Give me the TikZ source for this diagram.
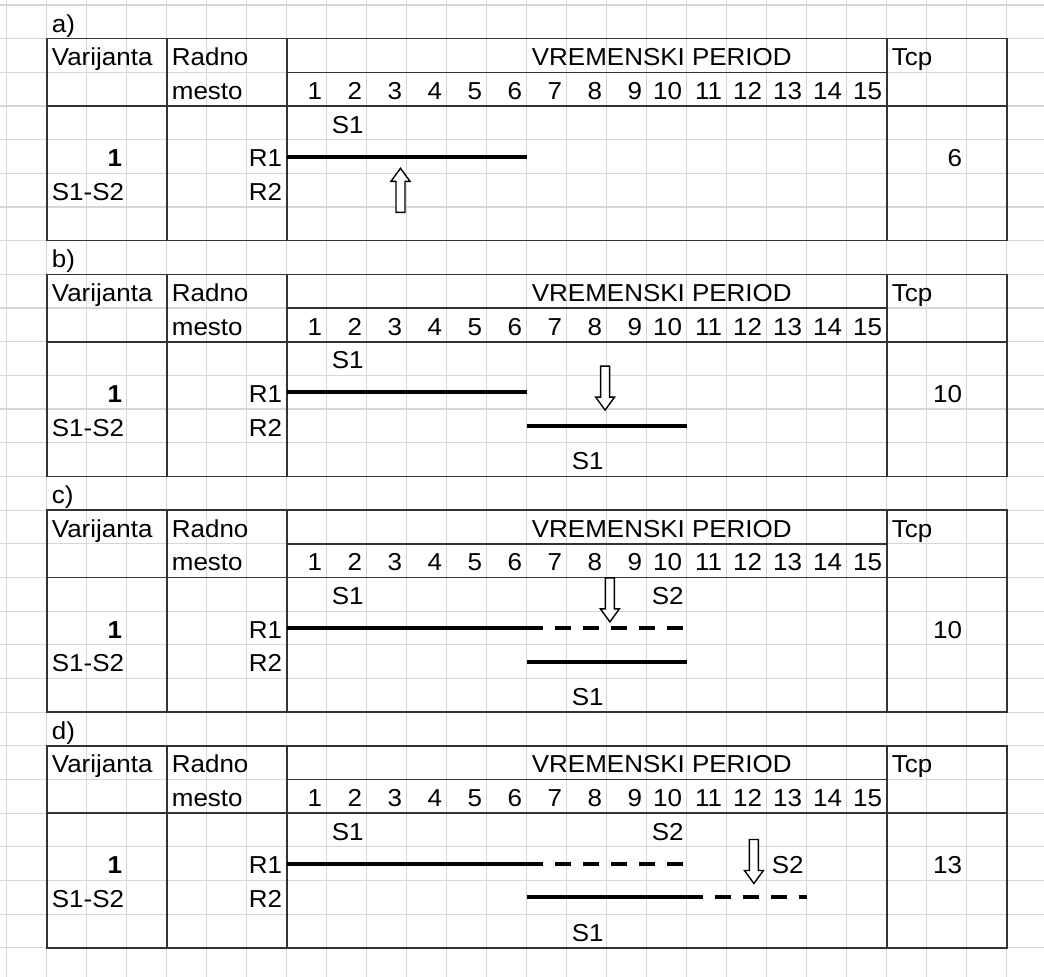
\documentclass[tikz,border=0pt]{standalone}
\usepackage{fontspec}
\setmainfont{Liberation Sans}[FakeStretch=1.06]
\usepackage{tikz}
\definecolor{gridgray}{gray}{0.84}
\definecolor{tabgray}{gray}{0.2}
\tikzset{
  cellln/.style={gridgray,line width=1.1pt},
  tabln/.style={tabgray,line width=1.6pt},
  job/.style={black,line width=4pt},
  jobdash/.style={black,line width=4pt,dash pattern=on 16pt off 12pt},
  blockarr/.style={draw=black,fill=white,line width=1.4pt,line join=miter},
  txtl/.style={anchor=base west,inner sep=0pt,xshift=5pt,yshift=6.5pt},
  txtr/.style={anchor=base east,inner sep=0pt,xshift=-4.5pt,yshift=6.5pt},
}

\begin{document}
\begin{tikzpicture}[x=40pt,y=-33.67pt,font=\fontsize{24.5}{29}\selectfont]
  \useasboundingbox (-0.1675,-0.1485) rectangle (25.9325,28.868);
  \fill[white] (-0.1675,-0.1485) rectangle (25.9325,28.868);
  % cell grid
  \foreach \i in {0,...,25} \draw[cellln] (\i,-0.1485) -- (\i,28.868);
  \foreach \j in {0,...,28} \draw[cellln] (-0.1675,\j) -- (25.9325,\j);
  % block arrows, tip at #1
  \def\dnarr#1{\draw[blockarr] (#1) ++(-4.5pt,44pt) -- ++(9pt,0pt) -- ++(0pt,-31pt)
    -- ++(5pt,0pt) -- ++(-9.5pt,-13pt) -- ++(-9.5pt,13pt) -- ++(5pt,0pt) -- cycle;}
  \def\uparr#1{\draw[blockarr] (#1) ++(-4.5pt,-44pt) -- ++(9pt,0pt) -- ++(0pt,31pt)
    -- ++(5pt,0pt) -- ++(-9.5pt,13pt) -- ++(-9.5pt,-13pt) -- ++(5pt,0pt) -- cycle;}
  % the four tables
  \foreach \p/\lab/\tcp [count=\n from 0] in {a/a)/6,b/b)/10,c/c)/10,d/d)/13}{
    \pgfmathtruncatemacro\r{7*\n}
    \node[txtl] (lab\p) at (1,\r+1) {\lab};
    \draw[tabln] (1,\r+1) rectangle (25,\r+7);
    \draw[tabln] (4,\r+1) -- (4,\r+7) (7,\r+1) -- (7,\r+7) (22,\r+1) -- (22,\r+7);
    \draw[tabln] (7,\r+2) -- (22,\r+2) (1,\r+3) -- (25,\r+3);
    \node[txtl] (var\p) at (1,\r+2) {Varijanta};
    \node[txtl] (rad\p) at (4,\r+2) {Radno};
    \node[txtl] (mes\p) at (4,\r+3) {mesto};
    \node[txtl] (per\p) at (13,\r+2) {VREMENSKI PERIOD};
    \node[txtl] (tcph\p) at (22,\r+2) {Tcp};
    \foreach \t in {1,...,15} \node[txtr] (num\p\t) at (7+\t,\r+3) {\t};
    \node[txtl] (sa\p) at (8,\r+4) {S1};
    \node[txtr] (one\p) at (3,\r+5) {\bfseries 1};
    \node[txtl] (sv\p) at (1,\r+6) {S1-S2};
    \node[txtr] (ra\p) at (7,\r+5) {R1};
    \node[txtr] (rb\p) at (7,\r+6) {R2};
    \node[txtr] (tcp\p) at (24,\r+5) {\tcp};
    \draw[job] (7,\r+4.5) -- (13,\r+4.5);
  }
  % a)
  \uparr{9.845,4.85}
  % b)
  \draw[job] (13,12.5) -- (17,12.5);
  \node[txtl] (sbb) at (14,14) {S1};
  \dnarr{14.96,12.03}
  % c)
  \draw[jobdash] (13,18.5) -- (17,18.5);
  \draw[job] (13,19.5) -- (17,19.5);
  \node[txtl] (scc) at (16,18) {S2};
  \node[txtl] (sbc) at (14,21) {S1};
  \dnarr{15.08,18.32}
  % d)
  \draw[jobdash] (13,25.5) -- (17,25.5);
  \draw[job] (13,26.5) -- (17,26.5);
  \draw[jobdash] (17,26.5) -- (20,26.5);
  \node[txtl] (scd) at (16,25) {S2};
  \node[txtl] (sdd) at (19,26) {S2};
  \node[txtl] (sbd) at (14,28) {S1};
  \dnarr{18.68,26.09}
\end{tikzpicture}
\end{document}
